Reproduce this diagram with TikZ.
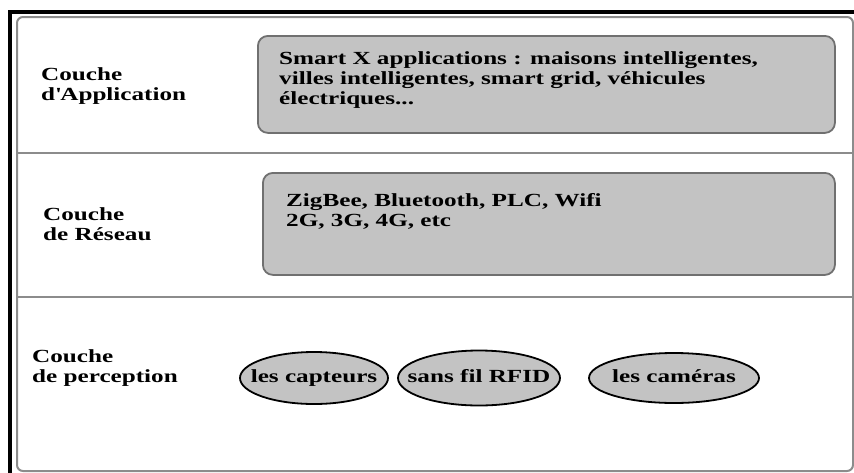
\documentclass[tikz,border=0pt]{standalone}
\usepackage{fontspec}
\setmainfont{Liberation Serif}[FakeStretch=1.36]
\usetikzlibrary{shapes.geometric}
\definecolor{boxfill}{HTML}{C3C3C3}
\definecolor{boxline}{HTML}{707070}
\definecolor{frameline}{HTML}{8C8C8C}
\newcommand\zbox[1]{\smash{\raisebox{-4pt}{\makebox[0pt]{#1}}}}
\begin{document}
\begin{tikzpicture}[x=1pt,y=-1pt,
  txt/.style={inner sep=0pt, anchor=base west, align=left, font=\fontsize{18.5}{20}\selectfont\bfseries},
  layerbox/.style={draw=boxline, fill=boxfill, line width=1.8pt, rounded corners=10pt, anchor=north west},
  oval/.style={ellipse, draw=black, fill=boxfill, line width=1.8pt, inner sep=0pt, font=\fontsize{18.5}{20}\selectfont\bfseries},
  divider/.style={draw=frameline, line width=2pt}]
\useasboundingbox (0,0) rectangle (854,472);
% black outer border (top and left)
\draw[line width=4pt] (10,480) -- (10,12) -- (860,12);
% grey frame
\node[draw=frameline, line width=2pt, rounded corners=6pt, minimum width=836pt, minimum height=454pt, anchor=north west, inner sep=0pt] (frame) at (16,16) {};
\coordinate (d1) at (0,153);
\coordinate (d2) at (0,297);
\draw[divider] (frame.west |- d1) -- (frame.east |- d1);
\draw[divider] (frame.west |- d2) -- (frame.east |- d2);
% layer labels (anchored at the baseline of their last line)
\node[txt] (lapp) at (41,100) {Couche\\d\textquotesingle Application};
\node[txt] (lres) at (43,240.5) {Couche\\de Réseau};
\node[txt] (lper) at (32,382.7) {Couche\\de perception};
% application box
\node[layerbox, minimum width=577pt, minimum height=97pt] (appbox) at (257,35) {};
\node[txt] (apptext) at (279,104) {Smart X applications : maisons intelligentes,\\villes intelligentes, smart grid, véhicules\\électriques...};
% network box
\node[layerbox, minimum width=572pt, minimum height=102pt] (resbox) at (262,172) {};
\node[txt] (restext) at (286,226.7) {ZigBee, Bluetooth, PLC, Wifi\\2G, 3G, 4G, etc};
% perception ovals
\node[oval, minimum width=148pt, minimum height=52pt] (capteurs) at (314,378) {\zbox{les capteurs}};
\node[oval, minimum width=162pt, minimum height=55pt] (rfid) at (479,378) {\zbox{sans fil RFID}};
\node[oval, minimum width=170pt, minimum height=50pt] (cameras) at (674,378) {\zbox{les caméras}};
\end{tikzpicture}
\end{document}
